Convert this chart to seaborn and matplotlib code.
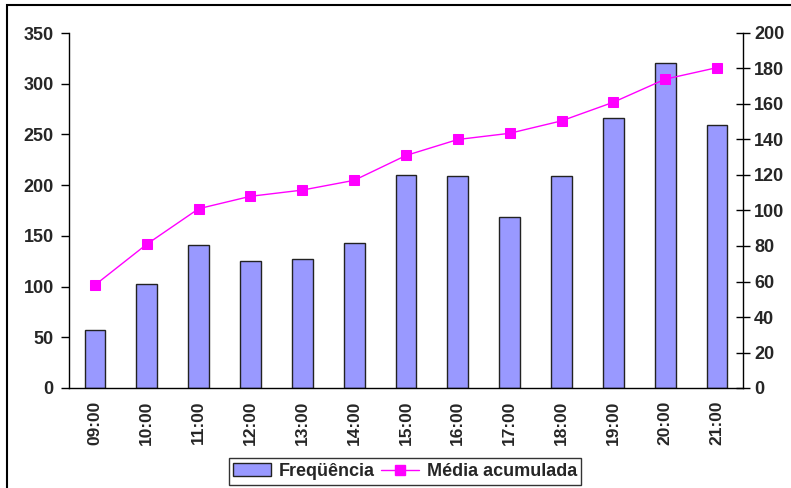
import matplotlib
matplotlib.use("Agg")
import matplotlib.pyplot as plt
from matplotlib.patches import Rectangle, Patch
from matplotlib.lines import Line2D
import seaborn as sns
import pandas as pd

horas = ["09:00", "10:00", "11:00", "12:00", "13:00", "14:00", "15:00",
         "16:00", "17:00", "18:00", "19:00", "20:00", "21:00"]
frequencia = [57, 103, 141, 125, 127, 143, 210, 209, 169, 209, 266, 320, 259]
media_acumulada = [58, 81, 101, 108, 111.5, 117, 131, 140, 143.5, 150.5, 161, 174, 180.5]

df = pd.DataFrame({"hora": horas, "freq": frequencia, "media": media_acumulada})

sns.set_style("white")
plt.rcParams["font.family"] = ["Liberation Sans", "DejaVu Sans"]
plt.rcParams["font.weight"] = "bold"

fig = plt.figure(figsize=(7.91, 4.88), dpi=100)
ax = fig.add_axes([69 / 791, 1 - 388 / 488, (743 - 69) / 791, (388 - 33) / 488])

bar_color = "#9999FF"
line_color = "#FF00FF"

sns.barplot(data=df, x="hora", y="freq", color=bar_color, width=0.4,
            edgecolor="#222222", linewidth=1.0, saturation=1, ax=ax)

ax2 = ax.twinx()
sns.pointplot(data=df, x="hora", y="media", color=line_color, markers="s",
              markersize=6.5, linewidth=1.0, ax=ax2)

ax.set_xlim(-0.5, len(horas) - 0.5)
ax.set_ylim(0, 350)
ax2.set_ylim(0, 200)
ax.set_yticks(range(0, 351, 50))
ax2.set_yticks(range(0, 201, 20))

for a in (ax, ax2):
    a.set_xlabel("")
    a.set_ylabel("")
    a.spines["top"].set_visible(False)
    for s in a.spines.values():
        s.set_linewidth(1.0)
        s.set_color("black")

ax.spines["right"].set_visible(False)
ax2.spines["left"].set_visible(False)
ax2.spines["bottom"].set_visible(False)

# category boundary ticks on the x axis
ax.set_xticks([i - 0.5 for i in range(1, len(horas))], minor=True)
ax.set_xticks(range(len(horas)))
ax.set_xticklabels(horas, rotation=90, fontsize=12.5, fontweight="bold")
ax.tick_params(axis="x", which="major", length=0, pad=9)
ax.tick_params(axis="x", which="minor", length=10, width=1, direction="inout",
               color="black")
ax.tick_params(axis="y", direction="out", length=6, width=1, color="black",
               labelsize=13, pad=5)
ax2.tick_params(axis="y", direction="inout", length=10, width=1, color="black",
                labelsize=13, pad=3)
for lbl in ax.get_yticklabels() + ax2.get_yticklabels():
    lbl.set_fontweight("bold")

handles = [
    Patch(facecolor=bar_color, edgecolor="#222222", linewidth=1.0, label="Freqüência"),
    Line2D([], [], color=line_color, marker="s", markersize=6.5, linewidth=1.0,
           label="Média acumulada"),
]
leg = fig.legend(handles=handles, loc="center", bbox_to_anchor=(405 / 791, 1 - 471.5 / 488),
                 ncol=2, frameon=True, fancybox=False,
                 prop={"weight": "bold", "size": 13}, handlelength=2.1,
                 columnspacing=0.4, handletextpad=0.4, borderpad=0.25)
leg.get_frame().set_edgecolor("black")
leg.get_frame().set_linewidth(1.0)

# outer chart frame
fig.patches.append(Rectangle((7 / 791, -0.1), 2, 1 - 5 / 488 + 0.1,
                             transform=fig.transFigure, fill=False,
                             edgecolor="black", linewidth=1.5))

fig.savefig("out.png", dpi=100)
